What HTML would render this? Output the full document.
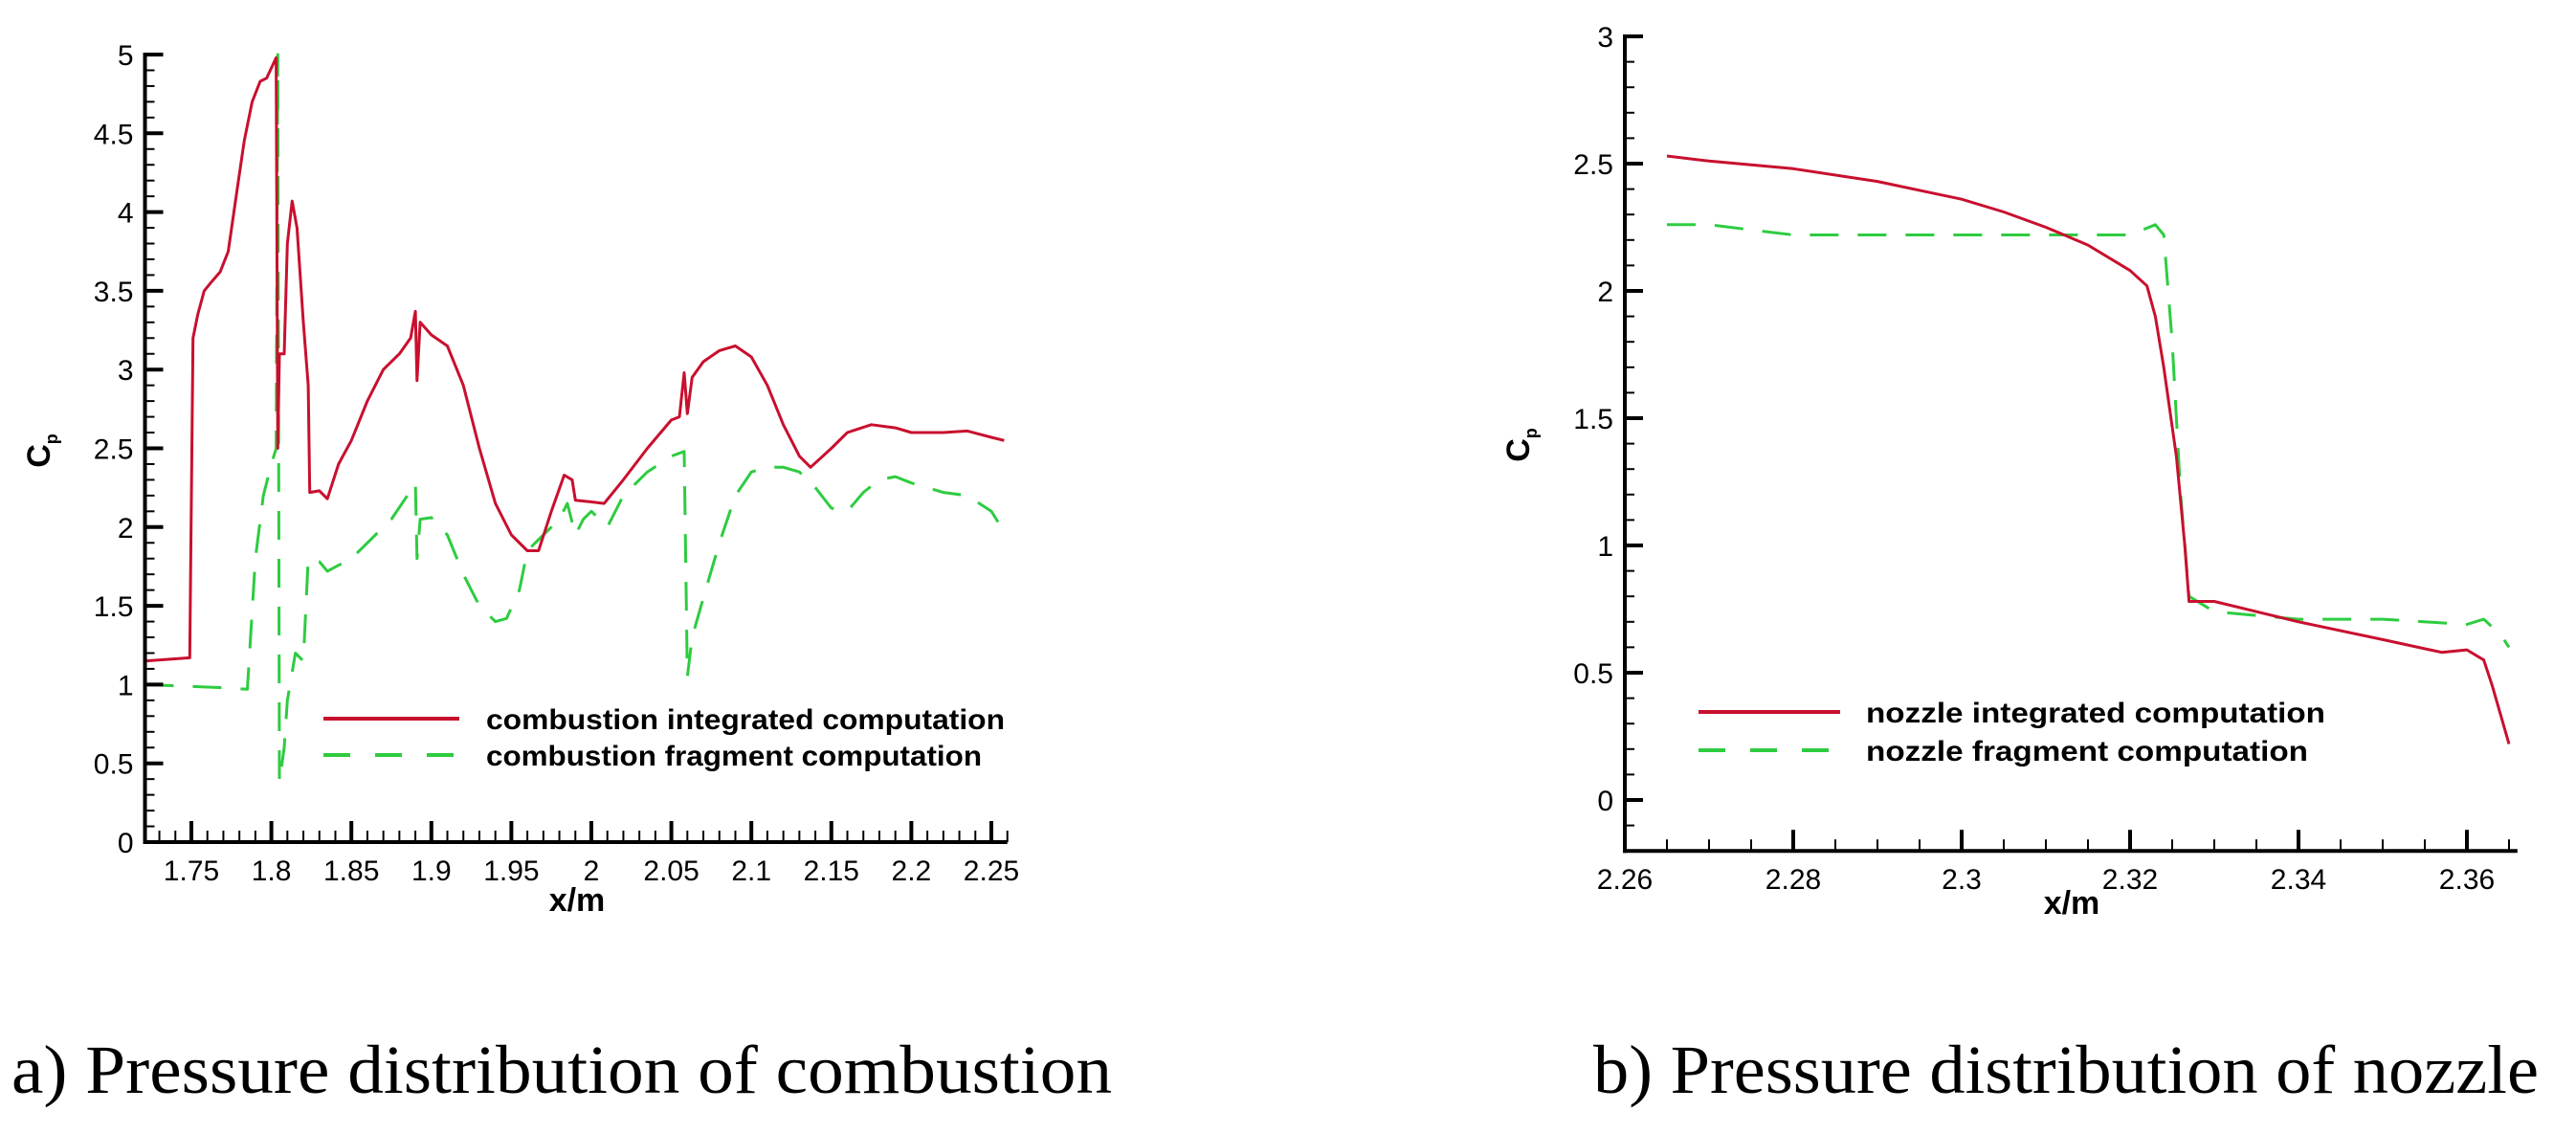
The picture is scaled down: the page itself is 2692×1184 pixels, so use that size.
<!DOCTYPE html>
<html><head><meta charset="utf-8">
<style>
html,body{margin:0;padding:0;background:#fff;}
svg{display:block;}
text{font-family:"Liberation Sans",Arial,sans-serif;fill:#000;}
.cap{font-family:"Liberation Serif","Times New Roman",serif;font-size:72px;}
</style></head>
<body>
<svg id="fig" width="2692" height="1184" viewBox="0 0 2692 1184" xmlns="http://www.w3.org/2000/svg">
<text class="cap" x="12" y="1142" textLength="1150" lengthAdjust="spacingAndGlyphs">a) Pressure distribution of combustion</text>
<text class="cap" x="1665" y="1142" textLength="988" lengthAdjust="spacingAndGlyphs">b) Pressure distribution of nozzle</text>
</svg>
<script>
// ---- Chart A data (combustion) ----
const aIntX=[1.721,1.749,1.751,1.754,1.758,1.762,1.768,1.773,1.778,1.783,1.788,1.793,1.797,1.803,1.804,1.805,1.808,1.81,1.813,1.816,1.82,1.823,1.824,1.83,1.835,1.842,1.85,1.86,1.87,1.88,1.887,1.89,1.891,1.893,1.9,1.91,1.92,1.93,1.94,1.95,1.96,1.967,1.975,1.983,1.988,1.99,2.0,2.008,2.02,2.035,2.05,2.055,2.058,2.06,2.063,2.07,2.08,2.09,2.1,2.11,2.12,2.13,2.137,2.15,2.16,2.175,2.19,2.2,2.22,2.235,2.25,2.258];
const aIntY=[1.15,1.17,3.2,3.35,3.5,3.55,3.62,3.75,4.1,4.45,4.7,4.83,4.85,4.98,2.5,3.1,3.1,3.8,4.07,3.9,3.3,2.9,2.22,2.23,2.18,2.4,2.55,2.8,3.0,3.1,3.2,3.37,2.93,3.3,3.22,3.15,2.9,2.5,2.15,1.95,1.85,1.85,2.1,2.33,2.3,2.17,2.16,2.15,2.3,2.5,2.68,2.7,2.98,2.72,2.95,3.05,3.12,3.15,3.08,2.9,2.65,2.45,2.38,2.5,2.6,2.65,2.63,2.6,2.6,2.61,2.57,2.55];
const aFragX=[1.721,1.745,1.77,1.785,1.79,1.795,1.8,1.803,1.804,1.805,1.808,1.81,1.815,1.82,1.823,1.83,1.835,1.85,1.86,1.875,1.885,1.89,1.891,1.893,1.9,1.91,1.92,1.93,1.94,1.947,1.955,1.96,1.97,1.98,1.985,1.99,1.995,2.0,2.01,2.02,2.035,2.05,2.058,2.06,2.063,2.07,2.08,2.09,2.1,2.11,2.12,2.13,2.14,2.15,2.16,2.17,2.18,2.19,2.2,2.21,2.22,2.235,2.25,2.258];
const aFragY=[1.0,0.99,0.98,0.97,1.8,2.2,2.4,2.5,5.0,0.38,0.6,0.9,1.2,1.15,1.8,1.78,1.72,1.8,1.9,2.05,2.2,2.28,1.8,2.05,2.06,1.95,1.7,1.5,1.4,1.42,1.6,1.85,1.95,2.05,2.15,1.95,2.05,2.1,2.0,2.2,2.35,2.45,2.48,1.05,1.3,1.55,1.9,2.2,2.35,2.38,2.38,2.35,2.25,2.12,2.1,2.22,2.3,2.32,2.28,2.25,2.22,2.2,2.1,1.97];
const aXTicks=["1.75","1.8","1.85","1.9","1.95","2","2.05","2.1","2.15","2.2","2.25"];
const aYTicks=["0","0.5","1","1.5","2","2.5","3","3.5","4","4.5","5"];
// ---- Chart B data (nozzle) ----
const bIntX=[2.265,2.27,2.28,2.29,2.3,2.305,2.31,2.315,2.32,2.322,2.323,2.324,2.3255,2.3265,2.327,2.33,2.34,2.35,2.357,2.36,2.362,2.363,2.365];
const bIntY=[2.53,2.51,2.48,2.43,2.36,2.31,2.25,2.18,2.08,2.02,1.9,1.7,1.35,1.0,0.78,0.78,0.7,0.63,0.58,0.59,0.55,0.45,0.22];
const bFragX=[2.265,2.27,2.275,2.28,2.3,2.31,2.32,2.323,2.324,2.325,2.326,2.327,2.33,2.34,2.35,2.36,2.362,2.364,2.365];
const bFragY=[2.26,2.26,2.24,2.22,2.22,2.22,2.22,2.26,2.22,1.8,1.2,0.8,0.74,0.71,0.71,0.69,0.71,0.65,0.6];
const bXTicks=["2.26","2.28","2.3","2.32","2.34","2.36"];
const bYTicks=["0","0.5","1","1.5","2","2.5","3"];

const NS="http://www.w3.org/2000/svg";
const svg=document.getElementById('fig');
function mk(tag,attrs,parent){const e=document.createElementNS(NS,tag);for(const k in attrs)e.setAttribute(k,attrs[k]);(parent||svg).appendChild(e);return e;}

function chart(cfg){
  const g=mk('g',{});
  
  
  const sx=v=>cfg.x0px+(v-cfg.x0)/(cfg.x1-cfg.x0)*(cfg.x1px-cfg.x0px);
  const sy=v=>cfg.y0px-(v-cfg.y0)/(cfg.y1-cfg.y0)*(cfg.y0px-cfg.y1px);
  // series
  function series(xs,ys,color,dash,nm){
    let d='';xs.forEach((x,i)=>{d+=(i?'L':'M')+sx(x).toFixed(1)+','+sy(ys[i]).toFixed(1);});
    const p=mk('path',{d:d,fill:'none',stroke:color,'stroke-width':3,'stroke-linejoin':'round'},g);
    if(dash)p.setAttribute('stroke-dasharray',dash);
    
    
  }
  series(cfg.fx,cfg.fy,'#2ecc40','30,20',cfg.pref+'-fragment-line');
  series(cfg.ix,cfg.iy,'#c8102e',null,cfg.pref+'-integrated-line');
  // axes
  const ax=mk('g',{},g);
  
  
  const L=sx(cfg.xmin),R=sx(cfg.xmax),B=sy(cfg.ymin),T=sy(cfg.ymax);
  mk('line',{x1:L,y1:B+2,x2:L,y2:T-2,stroke:'#000','stroke-width':4},ax);
  mk('line',{x1:L-2,y1:B,x2:R,y2:B,stroke:'#000','stroke-width':4},ax);
  // y ticks
  for(let v=cfg.ymin;v<=cfg.ymax+1e-9;v+=cfg.yminor){
    const vv=Math.round(v*1000)/1000,y=sy(vv);
    const major=Math.abs(vv/cfg.ymajor-Math.round(vv/cfg.ymajor))<1e-6;
    mk('line',{x1:L,y1:y,x2:L+(major?19:10),y2:y,stroke:'#000','stroke-width':major?4:2},ax);
  }
  cfg.yt.forEach(t=>{
    const e=mk('text',{x:L-12,y:sy(parseFloat(t))+11,'font-size':30,'text-anchor':'end'},ax);
    e.textContent=t;
    
    
  });
  for(let v=cfg.xtStart;v<=cfg.xmax+1e-9;v+=cfg.xminor){
    const vv=Math.round(v*10000)/10000,x=sx(vv);
    if(x<L+1)continue;
    const major=Math.abs(vv/cfg.xmajor-Math.round(vv/cfg.xmajor))<1e-6;
    mk('line',{x1:x,y1:B,x2:x,y2:B-(major?22:12),stroke:'#000','stroke-width':major?4:2},ax);
  }
  cfg.xt.forEach(t=>{
    const e=mk('text',{x:sx(parseFloat(t)),y:B+40,'font-size':30,'text-anchor':'middle'},ax);
    e.textContent=t;
    
    
  });
  const xt=mk('text',{x:cfg.xtitle[0],y:cfg.xtitle[1],'font-size':34,'font-weight':'bold','text-anchor':'middle'},g);
  xt.textContent='x/m';
  
  
  const yt=mk('text',{x:0,y:0,'font-size':34,'font-weight':'bold','text-anchor':'middle',transform:'translate('+cfg.ytitle[0]+','+cfg.ytitle[1]+') rotate(-90)'},g);
  yt.innerHTML='C<tspan font-size="18" dy="8">p</tspan>';
  
  
  // legend
  const lg=mk('g',{},g);
  
  
  const [lx1,lx2,ly1,ly2,tx,tw1,tw2]=cfg.leg;
  mk('line',{x1:lx1,y1:ly1,x2:lx2,y2:ly1,stroke:'#c8102e','stroke-width':4},lg);
  mk('line',{x1:lx1,y1:ly2,x2:lx2,y2:ly2,stroke:'#2ecc40','stroke-width':4,'stroke-dasharray':'28,26'},lg);
  const t1=mk('text',{x:tx,y:ly1+11,'font-size':30,'font-weight':'bold',textLength:tw1,lengthAdjust:'spacingAndGlyphs'},lg);
  t1.textContent=cfg.legText[0];
  
  
  const t2=mk('text',{x:tx,y:ly2+11,'font-size':30,'font-weight':'bold',textLength:tw2,lengthAdjust:'spacingAndGlyphs'},lg);
  t2.textContent=cfg.legText[1];
  
  
}

chart({name:'combustion-chart',pref:'combustion',x0:1.75,x1:2.25,x0px:200,x1px:1036,y0:0,y1:5,y0px:880,y1px:57,
  xmin:1.721,xmax:2.26,ymin:0,ymax:5,ymajor:0.5,yminor:0.1,xmajor:0.05,xminor:0.01,xtStart:1.73,
  ix:aIntX,iy:aIntY,fx:aFragX,fy:aFragY,xt:aXTicks,yt:aYTicks,
  xtitle:[603,952],ytitle:[52,471],
  leg:[338,480,751,789,508,542,518],legText:['combustion integrated computation','combustion fragment computation']});
chart({name:'nozzle-chart',pref:'nozzle',x0:2.26,x1:2.36,x0px:1698,x1px:2578,y0:0,y1:3,y0px:836,y1px:38,
  xmin:2.26,xmax:2.366,ymin:-0.2,ymax:3,ymajor:0.5,yminor:0.1,xmajor:0.02,xminor:0.005,xtStart:2.26,
  ix:bIntX,iy:bIntY,fx:bFragX,fy:bFragY,xt:bXTicks,yt:bYTicks,
  xtitle:[2165,955],ytitle:[1598,465],
  leg:[1775,1923,744,784,1950,480,462],legText:['nozzle integrated computation','nozzle fragment computation']});
</script>
</body></html>
